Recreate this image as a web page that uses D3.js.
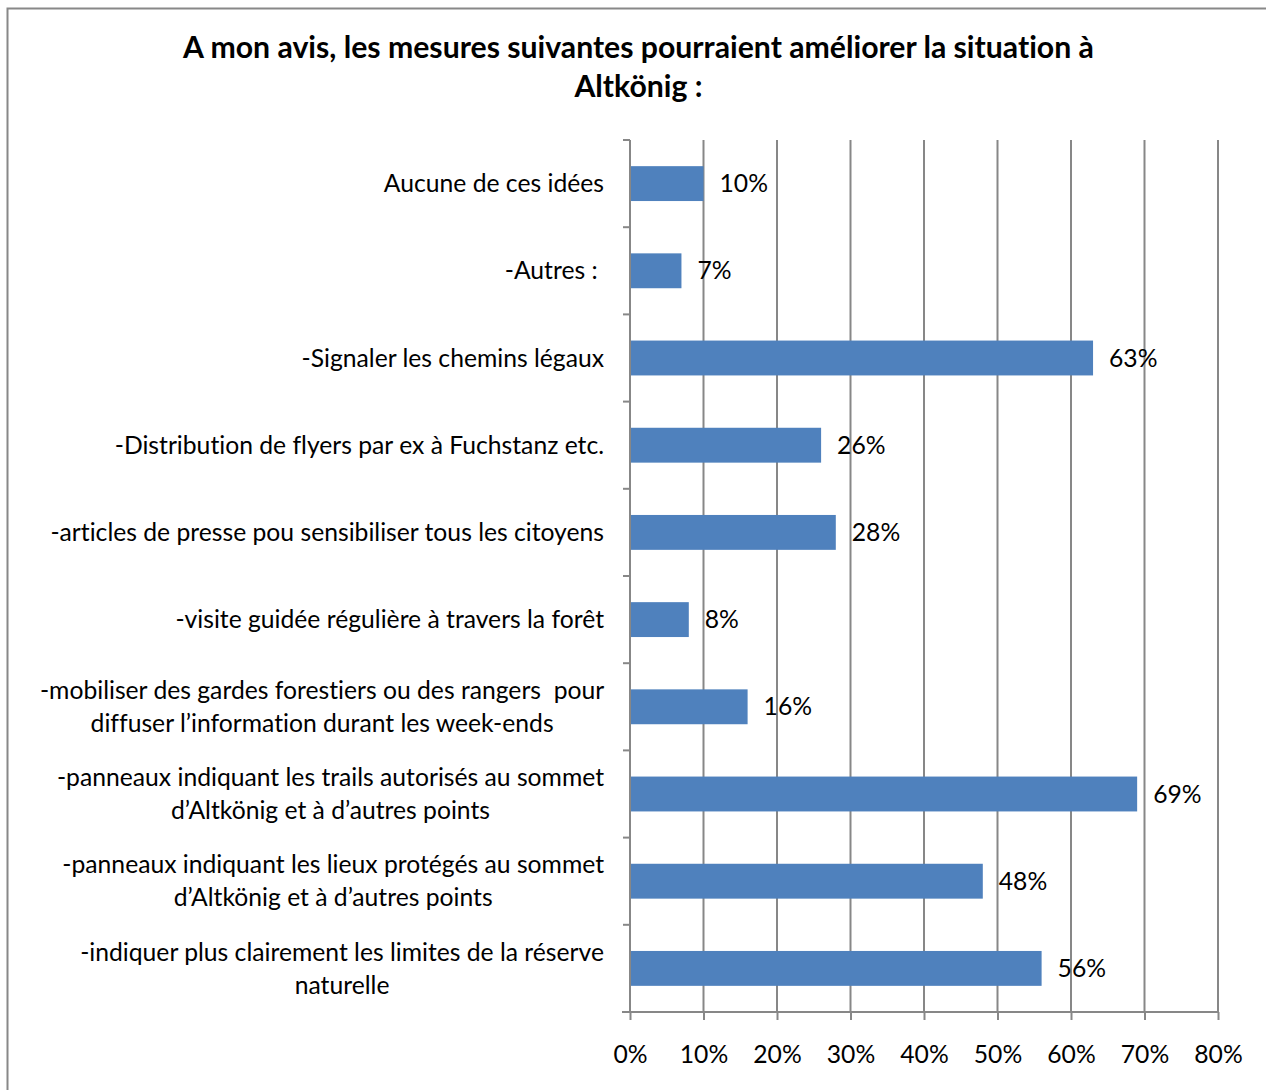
<!DOCTYPE html>
<html>
<head>
<meta charset="utf-8">
<script src="https://cdn.jsdelivr.net/npm/d3@7"></script>
<style>
  html, body { margin: 0; padding: 0; background: #fff; }
  svg { display: block; }
  text { font-family: Lato, "Open Sans", sans-serif; fill: #000; font-variant-ligatures: none; white-space: pre; }
</style>
</head>
<body>
<svg id="chart" width="1266" height="1090"></svg>
<script>
// Survey answers, top to bottom
const categories = [
  ["Aucune de ces idées"],
  ["-Autres : "],
  ["-Signaler les chemins légaux"],
  ["-Distribution de flyers par ex à Fuchstanz etc."],
  ["-articles de presse pou sensibiliser tous les citoyens"],
  ["-visite guidée régulière à travers la forêt"],
  ["-mobiliser des gardes forestiers ou des rangers  pour", "diffuser l’information durant les week-ends"],
  ["-panneaux indiquant les trails autorisés au sommet", "d’Altkönig et à d’autres points"],
  ["-panneaux indiquant les lieux protégés au sommet", "d’Altkönig et à d’autres points"],
  ["-indiquer plus clairement les limites de la réserve", "naturelle"]
];
const values = [10, 7, 63, 26, 28, 8, 16, 69, 48, 56];
const tickValues = [0, 10, 20, 30, 40, 50, 60, 70, 80];
const titleLines = [
  "A mon avis, les mesures suivantes pourraient améliorer la situation à",
  "Altkönig :"
];

const svg = d3.select("#chart");
const plot = { left: 630, right: 1218, top: 140, bottom: 1012 };
const barColor = "#4F81BD";
const gridColor = "#878787";

// Outer chart frame (runs past the right and bottom edges)
svg.append("rect")
  .attr("x", 7.5).attr("y", 8.5)
  .attr("width", 1300).attr("height", 1200)
  .attr("fill", "none").attr("stroke", "#888").attr("stroke-width", 2);

// Fit a font size so a given string reaches a target width
function fitSize(str, target, weight) {
  const t = svg.append("text").attr("font-size", 100).attr("font-weight", weight).text(str);
  const w = t.node().getComputedTextLength();
  t.remove();
  return 100 * target / w;
}
const labelSize = fitSize(categories[4][0], 554, "normal");
const titleSize = fitSize(titleLines[0], 911, "bold");

const x = d3.scaleLinear().domain([0, 80]).range([plot.left, plot.right]);
const y = d3.scaleBand().domain(d3.range(categories.length))
  .range([plot.top, plot.bottom]).paddingInner(0.6).paddingOuter(0.3);

// Title
svg.append("text")
  .attr("text-anchor", "middle")
  .attr("font-weight", "bold")
  .attr("font-size", titleSize)
  .selectAll("tspan").data(titleLines).join("tspan")
  .attr("x", 638.5)
  .attr("y", (d, i) => 58 + i * 39)
  .text(d => d);

// Vertical gridlines
svg.append("g").selectAll("line").data(tickValues.slice(1)).join("line")
  .attr("x1", d => x(d)).attr("x2", d => x(d))
  .attr("y1", plot.top).attr("y2", plot.bottom)
  .attr("stroke", gridColor).attr("stroke-width", 2);

// Bars
svg.append("g").selectAll("rect").data(values).join("rect")
  .attr("x", x(0))
  .attr("y", (d, i) => y(i))
  .attr("width", d => x(d) - x(0))
  .attr("height", y.bandwidth())
  .attr("fill", barColor);

// Value labels
svg.append("g").selectAll("text").data(values).join("text")
  .attr("x", d => x(d) + 16)
  .attr("y", (d, i) => y(i) + y.bandwidth() / 2)
  .attr("dy", "0.35em")
  .attr("font-size", labelSize)
  .text(d => d + "%");

// X axis
const xAxis = svg.append("g")
  .attr("transform", `translate(0,${plot.bottom})`)
  .call(d3.axisBottom(x).tickValues(tickValues).tickSize(8).tickPadding(25).tickFormat(d => d + "%"));
xAxis.select(".domain").attr("d", `M${plot.left - 8},0H${plot.right}`);
xAxis.selectAll("line, path").attr("stroke", gridColor).attr("stroke-width", 2);
xAxis.selectAll("text").attr("font-size", labelSize).attr("font-family", null).attr("fill", "#000");

// Y axis with category boundaries as ticks
const step = (plot.bottom - plot.top) / categories.length;
const yAxisG = svg.append("g");
yAxisG.append("line")
  .attr("x1", plot.left).attr("x2", plot.left)
  .attr("y1", plot.top).attr("y2", plot.bottom)
  .attr("stroke", gridColor).attr("stroke-width", 2);
yAxisG.selectAll("line.tick").data(d3.range(categories.length + 1)).join("line")
  .attr("class", "tick")
  .attr("x1", plot.left - 7).attr("x2", plot.left)
  .attr("y1", i => plot.top + i * step).attr("y2", i => plot.top + i * step)
  .attr("stroke", gridColor).attr("stroke-width", 2);

// Category labels: each block right-aligned to the axis, lines centred within the block
const lineH = 33;
const labelRight = 604;
const labelG = svg.append("g").attr("font-size", labelSize);
categories.forEach((lines, i) => {
  const cy = y(i) + y.bandwidth() / 2;
  const t = labelG.append("text").attr("text-anchor", "middle");
  const spans = t.selectAll("tspan").data(lines).join("tspan").text(d => d);
  const maxW = d3.max(spans.nodes(), n => n.getComputedTextLength());
  const cx = labelRight - maxW / 2;
  spans.attr("x", cx)
    .attr("y", (d, k) => cy + (k - (lines.length - 1) / 2) * lineH)
    .attr("dy", "0.35em");
});
</script>
</body>
</html>
